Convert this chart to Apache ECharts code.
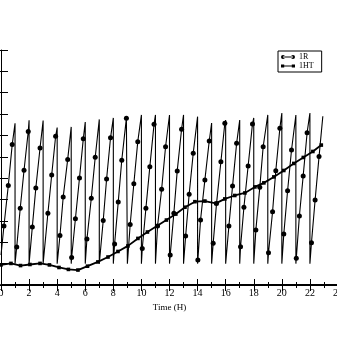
<!DOCTYPE html>
<html>
<head>
<meta charset="utf-8">
<script src="https://cdn.jsdelivr.net/npm/echarts@6/dist/echarts.min.js"></script>
<style>
  html, body { margin: 0; padding: 0; background: #fff; }
  #chart { width: 337px; height: 337px; }
</style>
</head>
<body>
<div id="chart"></div>
<script>
// 1R: ramps that reset every hour; peak value reached just before each reset (hours 1..22)
const r1Start = [0, 1.4];
const r1Floor = 1.0;
const r1Peaks = [7.57, 7.71, 7.70, 7.37, 7.40, 7.63, 7.75, 7.82, 7.90, 7.96, 7.96,
                 7.96, 7.96, 7.88, 7.58, 7.72, 7.72, 7.82, 7.96, 8.05, 7.96, 8.05];
const r1End = [22.92, 7.9];

// 1R sampled points (drawn with circles)
const r1MarkT = [0.21, 0.52, 0.80, 1.12, 1.37, 1.64, 1.94, 2.23, 2.48, 2.78,
                 3.34, 3.61, 3.89, 4.20, 4.43, 4.75, 5.03, 5.30, 5.59, 5.86,
                 6.12, 6.43, 6.71, 7.28, 7.52, 7.80, 8.09, 8.35, 8.60, 8.93,
                 9.20, 9.46, 9.74, 10.06, 10.32, 10.60, 10.90, 11.15, 11.44, 11.72,
                 12.05, 12.31, 12.55, 12.86, 13.15, 13.40, 13.69, 14.02, 14.21, 14.52,
                 14.83, 15.11, 15.35, 15.66, 15.94, 16.23, 16.49, 16.78, 17.06, 17.30,
                 17.60, 17.91, 18.15, 18.43, 18.67, 19.05, 19.34, 19.57, 19.86, 20.14,
                 20.41, 20.69, 21.03, 21.25, 21.52, 21.80, 22.11, 22.37, 22.65];
const r1MarkV = [2.76, 4.66, 6.58, 1.78, 3.59, 5.37, 7.18, 2.71, 4.54, 6.41,
                 3.36, 5.15, 6.96, 2.32, 4.12, 5.88, 1.29, 3.10, 5.01, 6.84,
                 2.15, 4.06, 5.98, 3.02, 4.96, 6.89, 1.92, 3.89, 5.84, 7.81,
                 2.83, 4.74, 6.71, 1.71, 3.59, 5.54, 7.53, 2.76, 4.48, 6.47,
                 1.40, 3.36, 5.34, 7.29, 2.29, 4.25, 6.17, 1.17, 3.04, 4.92,
                 6.74, 1.95, 3.82, 5.77, 7.57, 2.76, 4.63, 6.63, 1.79, 3.64,
                 5.57, 7.54, 2.57, 4.57, 6.47, 1.51, 3.43, 5.35, 7.34, 2.39,
                 4.41, 6.32, 1.25, 3.23, 5.10, 7.13, 1.98, 3.98, 6.01];

// 1HT series
const htT = [0.00, 0.71, 1.39, 2.06, 2.78, 3.45, 4.13, 4.80, 5.48, 6.16,
             6.90, 7.62, 8.33, 9.04, 9.75, 10.43, 11.10, 11.78, 12.45, 13.10,
             13.81, 14.52, 15.30, 15.94, 16.65, 17.37, 18.08, 18.72, 19.43, 20.14,
             20.85, 21.53, 22.21, 22.81];
const htV = [0.94, 1.01, 0.91, 0.96, 1.01, 0.94, 0.82, 0.73, 0.70, 0.88,
             1.08, 1.31, 1.57, 1.83, 2.18, 2.48, 2.76, 3.04, 3.32, 3.64,
             3.90, 3.93, 3.82, 4.03, 4.19, 4.31, 4.59, 4.78, 5.06, 5.36,
             5.69, 5.97, 6.25, 6.55];

const xTickLabels = ['0','2','4','6','8','10','12','14','16','18','20','22','24'];

// Assemble the 1R path: ramp points, peak, then the vertical reset to the floor
const r1Data = [{ value: r1Start, symbol: 'none' }];
let k = 0;
for (let h = 1; h <= r1Peaks.length; h++) {
  while (k < r1MarkT.length && r1MarkT[k] < h) { r1Data.push([r1MarkT[k], r1MarkV[k]]); k++; }
  r1Data.push({ value: [h, r1Peaks[h - 1]], symbol: 'none' });
  r1Data.push({ value: [h, r1Floor], symbol: 'none' });
}
while (k < r1MarkT.length) { r1Data.push([r1MarkT[k], r1MarkV[k]]); k++; }
r1Data.push({ value: r1End, symbol: 'none' });

const htData = htT.map((t, i) => [t, htV[i]]);

const serif = 'Liberation Serif';
const iconR = 'path://M0,2a2,2 0 1,0 4,0a2,2 0 1,0 -4,0z M10,2a2,2 0 1,0 4,0a2,2 0 1,0 -4,0z M2,1.55h10v0.9h-10z';
const iconHT = 'path://M0,0.5h3.2v3.2h-3.2z M10.8,0.5h3.2v3.2h-3.2z M1.5,1.65h11v0.9h-11z';

const chart = echarts.init(document.getElementById('chart'), null, { renderer: 'canvas' });
chart.setOption({
  animation: false,
  backgroundColor: '#fff',
  textStyle: { fontFamily: serif, color: '#000' },
  grid: { left: 1, top: 50, width: 337, height: 235, containLabel: false, outerBoundsMode: 'none' },
  legend: {
    data: [{ name: '1R', icon: iconR }, { name: '1HT', icon: iconHT }],
    orient: 'vertical',
    left: 278, top: 51,
    padding: [2, 8, 2, 3],
    itemGap: 1,
    itemWidth: 14, itemHeight: 4,
    borderColor: '#000', borderWidth: 1,
    backgroundColor: '#fff',
    textStyle: { fontFamily: serif, fontSize: 8, color: '#000', padding: [0, 0, 0, -1] }
  },
  xAxis: [
    {
      type: 'value', position: 'bottom', min: 0, max: 24, interval: 2,
      name: 'Time (H)', nameLocation: 'middle', nameGap: 8,
      nameTextStyle: { fontFamily: serif, fontSize: 9, color: '#000' },
      axisLine: { show: false },
      axisTick: { inside: true, length: 6, lineStyle: { color: '#000', width: 1 } },
      minorTick: { show: true, splitNumber: 2, length: 3, lineStyle: { color: '#000', width: 1 } },
      axisLabel: {
        margin: 3, fontFamily: serif, fontSize: 10, color: '#000',
        showMinLabel: true, showMaxLabel: true, hideOverlap: false,
        formatter: (v) => xTickLabels[Math.round(v / 2)]
      },
      splitLine: { show: false }
    },
    {
      type: 'value', position: 'top', min: 0, max: 24, interval: 2,
      axisLine: { show: true, lineStyle: { color: '#000', width: 2 } },
      axisTick: { inside: true, length: 6, lineStyle: { color: '#000', width: 1 } },
      minorTick: { show: true, splitNumber: 2, length: 3, lineStyle: { color: '#000', width: 1 } },
      axisLabel: { show: false },
      splitLine: { show: false }
    }
  ],
  yAxis: [
    {
      type: 'value', position: 'left', min: 0, max: 11, interval: 1,
      axisLine: { show: false },
      axisTick: { show: true, inside: true, length: 7, lineStyle: { color: '#000', width: 1 } },
      axisLabel: { show: false },
      splitLine: { show: false }
    },
    {
      type: 'value', position: 'right', min: 0, max: 11, interval: 1,
      axisLine: { show: true, lineStyle: { color: '#000', width: 1 } },
      axisTick: { show: true, inside: true, length: 8, lineStyle: { color: '#000', width: 1 } },
      axisLabel: { show: false },
      splitLine: { show: false }
    }
  ],
  series: [
    {
      name: '1R', type: 'line', xAxisIndex: 0, yAxisIndex: 0,
      data: r1Data,
      symbol: 'circle', symbolSize: 5, showSymbol: true,
      color: '#000',
      lineStyle: { color: '#000', width: 1.1 },
      itemStyle: { color: '#000', borderWidth: 0 },
      emphasis: { disabled: true },
      z: 2
    },
    {
      name: '1HT', type: 'line', xAxisIndex: 0, yAxisIndex: 0,
      data: htData,
      symbol: 'rect', symbolSize: 3.6, showSymbol: true,
      color: '#000',
      lineStyle: { color: '#000', width: 1.8 },
      itemStyle: { color: '#000', borderWidth: 0 },
      emphasis: { disabled: true },
      z: 3
    }
  ]
});
</script>
</body>
</html>
